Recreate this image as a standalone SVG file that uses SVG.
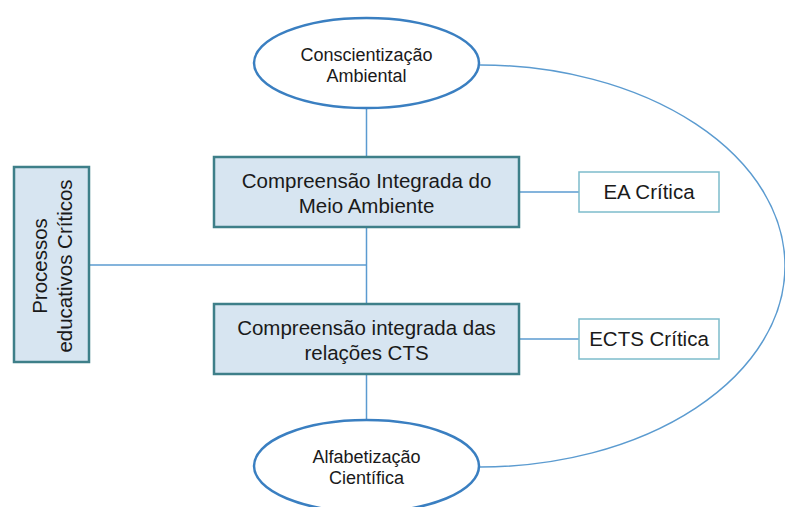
<svg xmlns="http://www.w3.org/2000/svg" width="785" height="507" viewBox="0 0 785 507">
<style>
text{font-family:"Liberation Sans",Arial,sans-serif;fill:#1a1a1a;text-anchor:middle}
.ell{fill:#fff;stroke:#3a7fc1;stroke-width:2.5}
.main{fill:#d7e5f1;stroke:#3e7f89;stroke-width:2.5}
.side{fill:#fff;stroke:#7dbccb;stroke-width:1.5}
.con{fill:none;stroke:#5b9bd0;stroke-width:1.5}
.t15{font-size:18px}
.t17{font-size:20.5px}
.t18{font-size:20.5px}
</style>
<rect width="785" height="507" fill="#fff"/>
<g id="connectors">
<path class="con" d="M480,65 A305,201 0 0 1 480,467"/>
<line class="con" x1="366.5" y1="108" x2="366.5" y2="157"/>
<line class="con" x1="366.5" y1="227" x2="366.5" y2="304"/>
<line class="con" x1="366.5" y1="374" x2="366.5" y2="420"/>
<line class="con" x1="89" y1="265" x2="366.5" y2="265"/>
<line class="con" x1="519" y1="192" x2="579" y2="192"/>
<line class="con" x1="519" y1="339" x2="579" y2="339"/>
</g>
<g id="conscientizacao">
<ellipse class="ell" cx="366.5" cy="63" rx="112.5" ry="45"/>
<text class="t15" x="366.5" y="61">Conscientização</text>
<text class="t15" x="366.5" y="82">Ambiental</text>
</g>
<g id="meio-ambiente">
<rect class="main" x="214" y="157" width="305" height="70"/>
<text class="t17" x="366.5" y="188">Compreensão Integrada do</text>
<text class="t17" x="366.5" y="213">Meio Ambiente</text>
</g>
<g id="cts">
<rect class="main" x="214" y="304" width="305" height="70"/>
<text class="t17" x="366.5" y="335">Compreensão integrada das</text>
<text class="t17" x="366.5" y="360">relações CTS</text>
</g>
<g id="processos">
<rect class="main" x="14" y="167" width="75" height="195"/>
<text class="t17" transform="translate(47,266) rotate(-90)" x="0" y="0">Processos</text>
<text class="t17" transform="translate(72,266) rotate(-90)" x="0" y="0">educativos Críticos</text>
</g>
<g id="ea-critica">
<rect class="side" x="579" y="172" width="140" height="40"/>
<text class="t18" x="649" y="199">EA Crítica</text>
</g>
<g id="ects-critica">
<rect class="side" x="579" y="319" width="140" height="40"/>
<text class="t18" x="649" y="346">ECTS Crítica</text>
</g>
<g id="alfabetizacao">
<ellipse class="ell" cx="366.5" cy="466" rx="112.5" ry="46"/>
<text class="t15" x="366.5" y="463">Alfabetização</text>
<text class="t15" x="366.5" y="484">Científica</text>
</g>
</svg>
